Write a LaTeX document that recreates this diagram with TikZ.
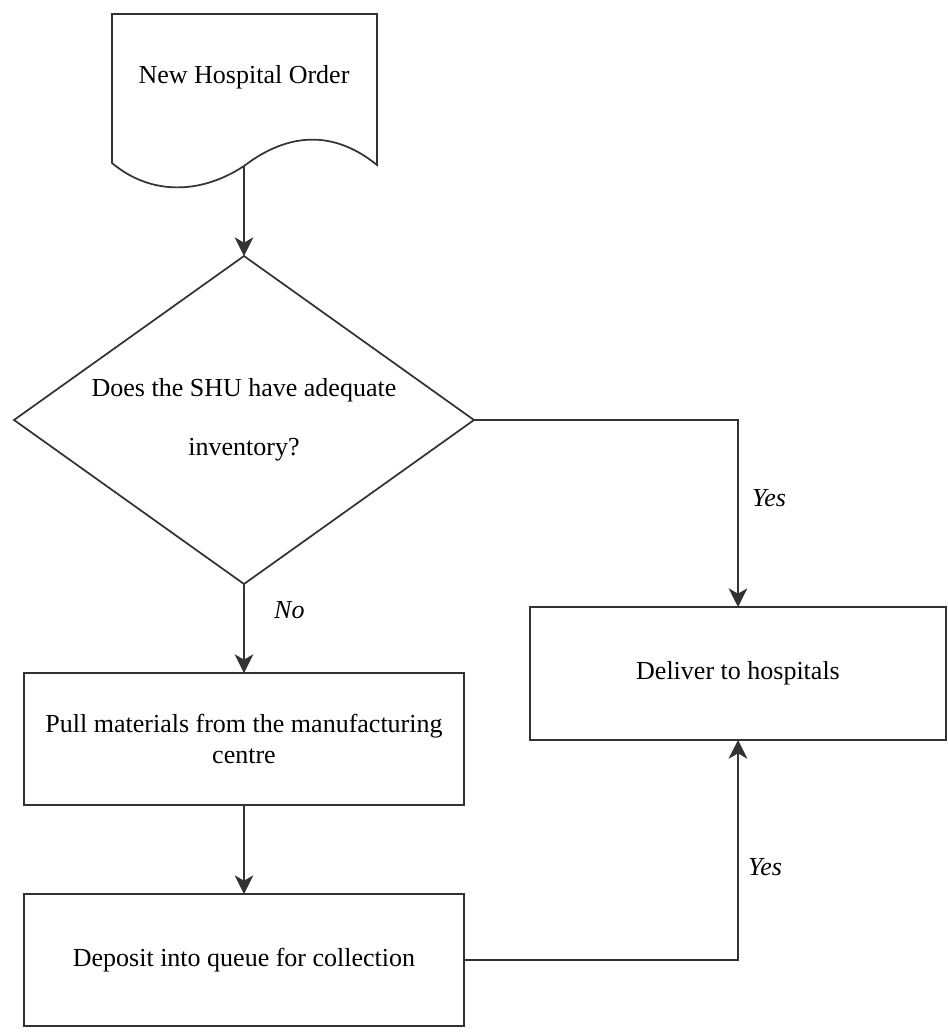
\documentclass[tikz,border=0pt]{standalone}
\usepackage{fontspec}
\setmainfont{Liberation Serif}
\usetikzlibrary{positioning,arrows.meta,shapes.geometric}

\begin{document}
\begin{tikzpicture}[
  x=0.75pt, y=-0.75pt,
  font=\fontsize{19.5}{23}\selectfont,
  box/.style={rectangle, draw=black!80, line width=1.3pt, align=center, inner sep=0pt, outer sep=0pt},
  choice/.style={diamond, aspect=1.4, draw=black!80, line width=1.3pt, align=center, inner sep=0pt, outer sep=0pt,
    minimum width=345pt, minimum height=246pt, font=\fontsize{19.5}{44}\selectfont},
  flow/.style={draw=black!80, line width=1.3pt, -{Stealth[length=14pt, width=14pt, inset=4pt]}},
  answer/.style={font=\fontsize{19.5}{23}\selectfont\itshape, inner sep=0pt, anchor=west}
]
\useasboundingbox (0,0) rectangle (947,1035);

% order document
\draw[draw=black!80, line width=1.3pt] (112,163) -- (112,14) -- (377,14) -- (377,165)
  .. controls (335,131) and (290,131) .. (244,166)
  .. controls (200,195) and (150,195) .. (112,163) -- cycle;
\node (order) at (244,77) {New Hospital Order};
\coordinate (orderout) at (244,166);

\node[choice] (check) at (244,420) {Does the SHU have adequate\\inventory?};
\node[box, minimum width=330pt, minimum height=99pt] (pull) at (244,739)
  {Pull materials from the manufacturing\\centre};
\node[box, minimum width=330pt, minimum height=99pt] (deposit) at (244,960)
  {Deposit into queue for collection};
\node[box, minimum width=312pt, minimum height=99.75pt] (deliver) at (738,673.5)
  {Deliver to hospitals};

\draw[flow] (orderout) -- (check.north);
\draw[flow] (check.east) -| node[answer, pos=0.71, xshift=10pt] {Yes} (deliver.north);
\draw[flow] (check.south) -- node[answer, pos=0.29, xshift=22pt] {No} (pull.north);
\draw[flow] (pull.south) -- (deposit.north);
\draw[flow] (deposit.east) -| node[answer, pos=0.71, xshift=7pt] {Yes} (deliver.south);
\end{tikzpicture}
\end{document}
